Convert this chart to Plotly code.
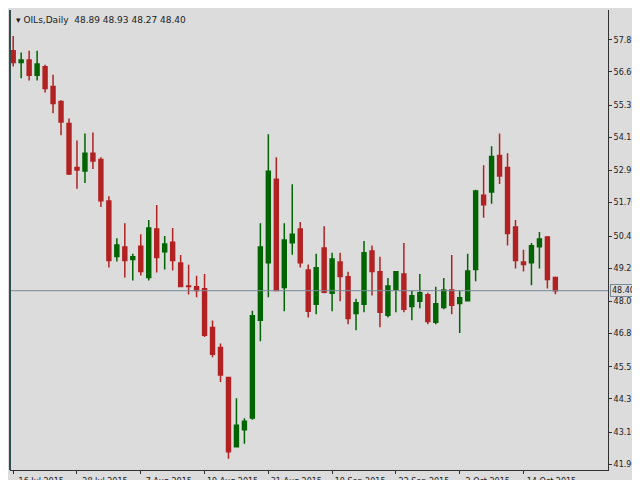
import plotly.graph_objects as go
import pandas as pd

dates = pd.bdate_range("2015-07-16", periods=69)

opens = [57.39, 56.95, 57.05, 56.47, 56.79, 56.05, 55.49, 54.67, 53.02, 52.89,
         53.55, 53.32, 51.76, 49.68, 50.04, 49.57, 50.07, 48.89, 50.71, 49.86,
         50.22, 49.44, 48.58, 48.55, 48.47, 47.02, 46.27, 45.15, 42.55, 43.19,
         43.63, 47.29, 49.45, 52.58, 48.52, 50.20, 50.71, 49.18, 47.89, 50.00,
         48.30, 49.48, 48.92, 47.55, 47.89, 49.89, 49.11, 47.48, 48.45, 49.03,
         47.81, 48.00, 48.25, 47.22, 47.77, 48.43, 47.92, 48.02, 49.19, 51.98,
         52.10, 53.47, 53.02, 50.79, 49.48, 49.45, 50.05, 50.41, 48.89]
highs = [57.95, 57.33, 57.39, 57.39, 56.87, 56.49, 55.54, 54.85, 54.03, 54.29,
         54.33, 53.40, 51.94, 50.37, 50.93, 49.78, 50.52, 51.05, 51.61, 50.45,
         50.75, 49.74, 49.37, 48.96, 49.03, 47.28, 46.42, 45.15, 44.37, 43.62,
         47.65, 50.93, 54.26, 53.40, 50.93, 52.39, 50.97, 49.38, 49.78, 50.82,
         49.82, 49.82, 49.11, 48.10, 50.26, 50.09, 49.67, 48.88, 49.14, 50.19,
         48.40, 49.03, 48.32, 48.55, 48.88, 49.74, 48.40, 49.78, 52.18, 53.10,
         53.81, 54.29, 53.55, 51.05, 49.93, 50.19, 50.60, 50.45, 48.93]
lows = [56.80, 56.36, 56.28, 56.28, 55.83, 55.05, 54.23, 52.74, 52.22, 52.44,
        52.96, 51.54, 49.27, 49.49, 48.89, 48.78, 48.97, 48.78, 49.08, 49.19,
        49.16, 48.56, 48.26, 48.15, 46.66, 45.91, 44.98, 42.10, 42.55, 42.66,
        43.56, 46.51, 48.15, 48.41, 47.63, 49.75, 49.27, 47.40, 47.52, 48.30,
        47.63, 48.00, 47.14, 46.92, 47.59, 48.22, 47.03, 47.40, 47.59, 47.59,
        47.29, 47.74, 47.14, 47.14, 47.70, 47.52, 46.81, 48.02, 48.75, 51.13,
        51.66, 52.40, 50.09, 49.23, 49.12, 48.60, 49.23, 48.48, 48.27]
closes = [56.95, 57.05, 56.47, 56.90, 55.98, 55.42, 54.72, 52.77, 52.92, 53.55,
          53.26, 51.77, 49.53, 50.11, 49.53, 49.67, 49.12, 50.75, 49.64, 50.15,
          49.53, 48.56, 48.56, 48.41, 46.73, 46.02, 45.24, 42.36, 43.36, 43.51,
          47.46, 50.04, 52.88, 48.41, 50.30, 50.52, 49.45, 47.63, 49.26, 48.34,
          49.59, 48.93, 47.36, 47.95, 49.82, 49.12, 47.59, 48.58, 49.11, 47.70,
          48.21, 48.32, 47.25, 47.91, 48.43, 47.85, 48.14, 49.14, 52.14, 51.62,
          53.43, 52.70, 50.54, 49.53, 49.38, 50.08, 50.34, 48.82, 48.40]

price_ticks = [57.80, 56.60, 55.35, 54.15, 52.90, 51.70, 50.45, 49.25, 48.00,
               46.80, 45.55, 44.35, 43.10, 41.90]
date_tick_idx = list(range(0, 69, 8))
last_price = 48.40

x = list(range(len(dates)))
red = "#B22222"
green = "#006400"

fig = go.Figure(go.Candlestick(
    x=x, open=opens, high=highs, low=lows, close=closes,
    increasing=dict(line=dict(color=green, width=1.5), fillcolor=green),
    decreasing=dict(line=dict(color=red, width=1.5), fillcolor=red),
    whiskerwidth=0,
))

fig.add_hline(y=last_price, line=dict(color="#778899", width=1))
fig.add_annotation(x=1, xref="paper", y=last_price, yref="y", text="48.40",
                   showarrow=False, xanchor="left", xshift=2,
                   bgcolor="#DCDCDC", bordercolor="#778899", borderwidth=1,
                   borderpad=1, font=dict(size=8, color="#202020"))
fig.add_annotation(x=0, xref="paper", y=1, yref="paper",
                   text="▾ OILs,Daily  48.89 48.93 48.27 48.40",
                   showarrow=False, xanchor="left", yanchor="top", xshift=4, yshift=-3,
                   font=dict(size=9, color="#202020"))

fig.update_layout(
    width=640, height=480,
    margin=dict(l=2, r=40, t=2, b=18),
    paper_bgcolor="#DCDCDC", plot_bgcolor="#DCDCDC",
    font=dict(family="DejaVu Sans", size=8, color="#202020"),
    showlegend=False,
    xaxis=dict(
        range=[-0.4, 74.6], rangeslider=dict(visible=False), automargin=False,
        tickvals=date_tick_idx,
        ticktext=[dates[i].strftime("%-d %b %Y") for i in date_tick_idx],
        ticks="outside", ticklen=3, tickcolor="#303030",
        ticklabelshift=28, ticklabelstandoff=0, showgrid=False, zeroline=False,
        showline=True, linecolor="#303030",
    ),
    yaxis=dict(
        side="right", range=[41.68, 58.92], tickvals=price_ticks, automargin=False,
        ticktext=[f"{v:.2f}" for v in price_ticks],
        ticks="outside", ticklen=3, tickcolor="#303030", ticklabelstandoff=0,
        showgrid=False, zeroline=False, showline=True, linecolor="#303030",
    ),
)
fig.add_shape(type="line", xref="paper", yref="paper", x0=0, x1=0, y0=0, y1=1,
              line=dict(color="#2F4F4F", width=2))

fig.write_html("out.html")
